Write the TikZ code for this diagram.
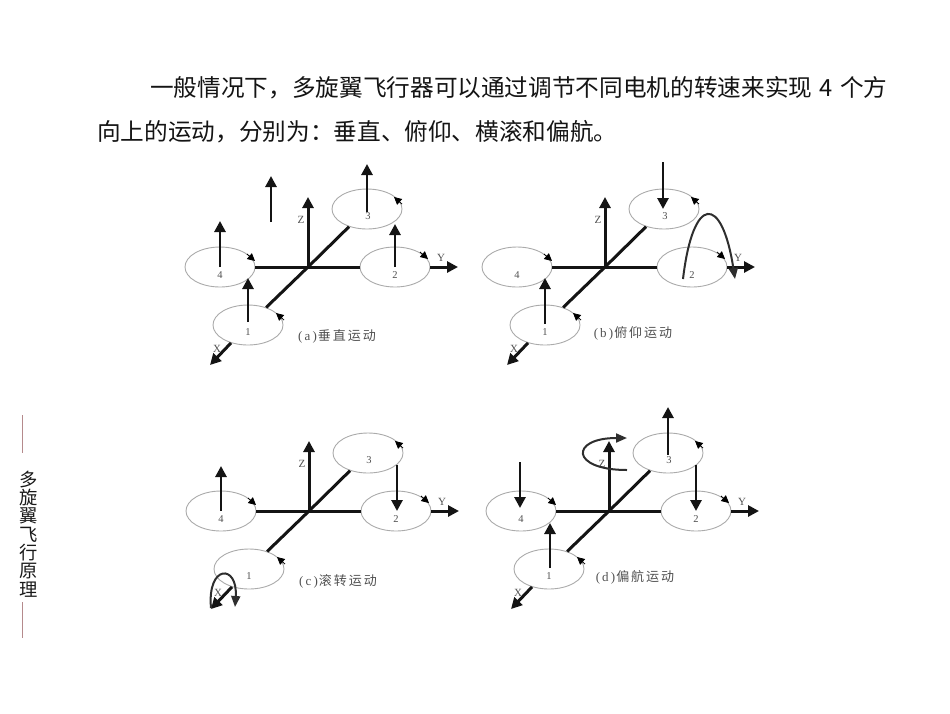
\documentclass[tikz,border=0pt]{standalone}
\usepackage{fontspec}
\setmainfont{Noto Sans CJK SC}
\newfontfamily\latinserif{Liberation Serif}
\usetikzlibrary{shapes.geometric,arrows.meta}
\definecolor{rotorgray}{HTML}{ABABAB}
\definecolor{labelgray}{HTML}{505050}
\definecolor{siderule}{HTML}{B58A8C}
\tikzset{
  rotor/.style={draw=rotorgray,line width=.9pt,ellipse,minimum width=70pt,minimum height=40pt,inner sep=0pt},
  arm/.style={line width=3pt,black!92},
  axisline/.style={line width=3pt,black!92,-{Triangle[length=11pt,width=11pt]}},
  force/.style={line width=2.8pt,black!92,-{Triangle[length=11pt,width=11pt]}},
  moment/.style={line width=2pt,black!82,-{Triangle[length=11pt,width=9pt]}},
  spin/.style={line width=.8pt,black,-{Triangle[length=7.5pt,width=7.5pt]}},
  numlabel/.style={font=\latinserif\fontsize{10.5}{10.5}\selectfont,text=labelgray,inner sep=0pt},
  axislabel/.style={font=\latinserif\fontsize{11}{11}\selectfont,text=labelgray,inner sep=0pt},
  caption/.style={font=\fontsize{13}{13}\selectfont,text=labelgray,inner sep=0pt},
  bodytext/.style={font=\fontsize{23.65}{24}\selectfont,text=black!92,anchor=base west,inner sep=0pt},
  sidetext/.style={font=\fontsize{18.3}{18.3}\selectfont,align=center,inner sep=0pt,text=black!90},
  rule/.style={siderule,line width=1pt}
}
\newcommand{\capt}[5]{\node[caption] (#1) at (#2,#3) {{\latinserif(\,#4\,)}\hspace{1pt}#5};}
% one panel: prefix, centre x, centre y
\newcommand{\mkpanel}[3]{%
  \begin{scope}[shift={(#2,#3)}]
    \coordinate (#1c) at (0,0);
    \coordinate (#1xt) at (-98,98);
    \coordinate (#1yt) at (150,0);
    \coordinate (#1zt) at (0,-70);
    \node[rotor] (#11) at (-60,58) {};
    \node[rotor] (#12) at (87,0) {};
    \node[rotor] (#13) at (59,-58) {};
    \node[rotor] (#14) at (-88,0) {};
    \node[numlabel] (#1n1) at (-60,65) {1};
    \node[numlabel] (#1n2) at (87,8) {2};
    \node[numlabel] (#1n3) at (60,-51) {3};
    \node[numlabel] (#1n4) at (-88,8) {4};
    \node[axislabel] (#1lx) at (-91,82) {X};
    \node[axislabel] (#1ly) at (133,-9) {Y};
    \node[axislabel] (#1lz) at (-7,-47) {Z};
    \draw[arm] (#1c) -- (#11);
    \draw[arm] (#1c) -- (#12);
    \draw[arm] (#1c) -- (#13);
    \draw[arm] (#1c) -- (#14);
    \draw[axisline] (#1c) -- (#1zt);
    \draw[axisline] (#12) -- (#1yt);
    \draw[axisline] (#11) -- (#1xt);
    \draw[spin] (#14) ++(27,-13) -- ++(8,7);
    \draw[spin] (#12) ++(25,-15) -- ++(8,7);
    \draw[spin] (#13) ++(35,-5) -- ++(-8,-7);
    \draw[spin] (#11) ++(36,-5) -- ++(-8,-7);
  \end{scope}}
\begin{document}
\begin{tikzpicture}[x=1pt,y=-1pt]
\useasboundingbox (0,0) rectangle (950,713);
\node[bodytext] (line1) at (150,96) {一般情况下，多旋翼飞行器可以通过调节不同电机的转速来实现\hspace{2pt} 4 \hspace{2pt}个方};
\node[bodytext] (line2) at (97,140) {向上的运动，分别为：垂直、俯仰、横滚和偏航。};

\mkpanel{a}{308}{267}
\mkpanel{b}{605}{267}
\mkpanel{c}{309}{511}
\mkpanel{d}{609}{511}

\capt{capa}{337}{336}{a}{垂\hspace{2pt}直\hspace{2pt}运\hspace{2pt}动}
\capt{capb}{633}{333}{b}{俯\hspace{2pt}仰\hspace{2pt}运\hspace{2pt}动}
\capt{capc}{338}{581}{c}{滚\hspace{2pt}转\hspace{2pt}运\hspace{2pt}动}
\capt{capd}{635}{577}{d}{偏\hspace{2pt}航\hspace{2pt}运\hspace{2pt}动}

% panel a forces
\coordinate (afree1) at (271,222);
\coordinate (afree2) at (271,176);
\draw[force] (afree1) -- (afree2);
\draw[force] (a3) ++(0,3) -- ++(0,-48);
\draw[force] (a2) ++(0,0) -- ++(0,-43);
\draw[force] (a4) ++(0,0) -- ++(0,-46);
\draw[force] (a1) ++(0,-3) -- ++(0,-44);

% panel b forces
\draw[force] (b3) ++(-1,-47) -- ++(0,47);
\draw[force] (b1) ++(0,-1) -- ++(0,-46);
\coordinate (bm1) at (683,279);
\coordinate (bm2) at (735,279);
\draw[moment] (bm1) .. controls (693,194) and (722,194) .. (bm2);

% panel c forces
\draw[force] (c4) ++(0,0) -- ++(0,-45);
\draw[force] (c3) ++(29,12) -- ++(0,46);
\coordinate (cm1) at (211,608);
\coordinate (cm2) at (235,607);
\draw[moment] (cm1) .. controls (207,564) and (238,564) .. (cm2);

% panel d forces
\draw[force] (d3) ++(0,2) -- ++(0,-48);
\draw[force] (d2) ++(0,-46) -- ++(0,46);
\draw[force] (d4) ++(-1,-49) -- ++(0,46);
\draw[force] (d1) ++(1,-1) -- ++(0,-45);
\coordinate (dm1) at (627,470);
\coordinate (dm2) at (627,438);
\draw[moment] (dm1) .. controls (570,470) and (570,438) .. (dm2);

% side title
\draw[rule] (22,415) -- (22,453);
\node[sidetext] (side) at (29,534) {多\\旋\\翼\\飞\\行\\原\\理};
\draw[rule] (22,602) -- (22,638);
\end{tikzpicture}
\end{document}
